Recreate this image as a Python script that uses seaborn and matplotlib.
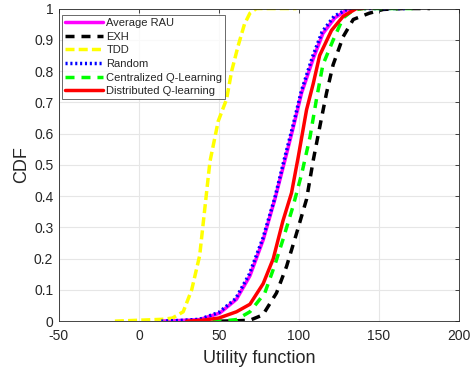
import numpy as np
import pandas as pd
import matplotlib
matplotlib.use("Agg")
import matplotlib.pyplot as plt
import seaborn as sns

# CDF levels / x values
rau_x = [13, 25, 38, 50.6, 61, 69.4, 77.7, 85, 91.3, 96.5, 101.7, 109, 115, 122.5, 129.8, 135]
rau_y = [0, 0.002, 0.005, 0.026, 0.07, 0.145, 0.26, 0.39, 0.515, 0.62, 0.73, 0.84, 0.92, 0.97, 0.995, 1.0]

rnd_x = [14, 25, 38, 50, 60.5, 69, 77.5, 85, 91, 96.3, 101.5, 108.5, 114.5, 122, 129, 135, 167]
rnd_y = [0, 0.002, 0.006, 0.028, 0.072, 0.15, 0.265, 0.395, 0.52, 0.625, 0.735, 0.845, 0.925, 0.975, 0.995, 1.0, 1.0]

exh_x = [50.6, 60, 69.4, 77.5, 86, 92.3, 98.5, 104.8, 109, 113, 117.3, 121.4, 127.7, 134, 144, 152.7, 165, 182]
exh_y = [0, 0.001, 0.003, 0.02, 0.09, 0.175, 0.28, 0.39, 0.515, 0.62, 0.73, 0.82, 0.91, 0.965, 0.985, 0.997, 1.0, 1.0]

tdd_x = [-15, -5, 5, 15, 21, 27.7, 33, 38, 44.4, 49.6, 54.8, 58, 62, 66, 69.4, 73.5, 85, 98.5]
tdd_y = [0, 0.002, 0.004, 0.006, 0.01, 0.03, 0.1, 0.21, 0.51, 0.64, 0.71, 0.8, 0.88, 0.95, 0.985, 1.0, 1.0, 1.0]

cql_x = [46, 55, 61, 69.4, 78.7, 85, 90, 96.5, 101.7, 107, 111, 115, 121.5, 127.7, 134, 140, 171]
cql_y = [0, 0.002, 0.005, 0.03, 0.09, 0.18, 0.26, 0.37, 0.47, 0.59, 0.71, 0.82, 0.9, 0.97, 0.995, 1.0, 1.0]

dql_x = [30, 40, 50, 61, 69.4, 77.7, 84, 90, 95.4, 99.6, 104.8, 109, 113, 120.4, 127.7, 136, 140]
dql_y = [0, 0.003, 0.01, 0.03, 0.054, 0.12, 0.2, 0.32, 0.41, 0.525, 0.676, 0.76, 0.85, 0.93, 0.975, 1.0, 1.0]

labels = ["Average RAU", "EXH", "TDD", "Random", "Centralized Q-Learning", "Distributed Q-learning"]

series = [
    (labels[0], rau_x, rau_y, "#ff00ff", "-"),
    (labels[1], exh_x, exh_y, "#000000", (0, (2.6, 2.0))),
    (labels[2], tdd_x, tdd_y, "#ffff00", (0, (2.6, 1.2))),
    (labels[3], rnd_x, rnd_y, "#0000ff", (0, (0.6, 0.8))),
    (labels[4], cql_x, cql_y, "#00ff00", (0, (2.6, 2.0))),
    (labels[5], dql_x, dql_y, "#ff0000", "-"),
]

sns.set_style("white")
plt.rcParams["font.family"] = ["Liberation Sans", "DejaVu Sans"]
plt.rcParams["axes.unicode_minus"] = False

fig = plt.figure(figsize=(4.75, 3.7), dpi=100)
ax = fig.add_axes([0.124, 0.132, 0.842, 0.845])

for name, xs, ys, col, ls in series:
    df = pd.DataFrame({"x": xs, "y": ys})
    sns.lineplot(data=df, x="x", y="y", ax=ax, color=col, linestyle=ls,
                 linewidth=2.5, sort=False, estimator=None, label=name)

ax.set_xlim(-50, 200)
ax.set_ylim(0, 1)
ax.set_xticks([-50, 0, 50, 100, 150, 200])
ax.set_yticks(np.arange(0, 1.01, 0.1))
ax.set_yticklabels(["0", "0.1", "0.2", "0.3", "0.4", "0.5", "0.6", "0.7", "0.8", "0.9", "1"])
ax.grid(True, color="#e6e6e6", linewidth=0.8)
ax.set_axisbelow(True)
for s in ax.spines.values():
    s.set_color("#262626")
    s.set_linewidth(0.6)
ax.tick_params(direction="in", length=3, width=0.6, colors="#262626", labelsize=10,
               top=True, right=True)
ax.tick_params(axis="x", pad=6)
ax.tick_params(axis="y", pad=4)
ax.set_xlabel("Utility function", fontsize=13, color="#262626", labelpad=5)
ax.set_ylabel("CDF", fontsize=13, color="#262626", labelpad=3)

leg = ax.legend(loc="upper left", bbox_to_anchor=(0.009, 0.979), fontsize=8,
                frameon=True, fancybox=False, borderpad=0.25, labelspacing=0.33,
                handlelength=3.4, handletextpad=0.3, borderaxespad=0)
leg.get_frame().set_edgecolor("#262626")
leg.get_frame().set_linewidth(0.6)

fig.savefig("out.png", dpi=100)
